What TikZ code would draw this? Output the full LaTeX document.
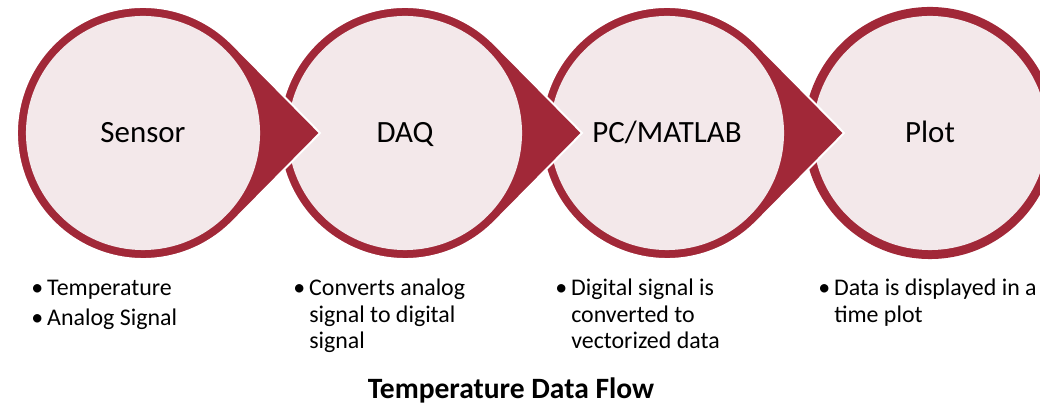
\documentclass[tikz,border=0pt]{standalone}
\usepackage{fontspec}
\setmainfont{Carlito}
\usetikzlibrary{positioning}
\definecolor{ringred}{RGB}{161,40,56}
\definecolor{stagefill}{RGB}{243,232,234}

\begin{document}
\begin{tikzpicture}[x=0.025cm, y=0.025cm]
    % Define block styles
    \tikzstyle{stage} = [circle, fill=stagefill, inner sep=0pt, minimum size=5.85cm, text height=14pt, text depth=0pt, font=\fontsize{22}{26}\selectfont]
    \tikzstyle{ring} = [fill=ringred, draw=white, line width=1.4pt]
    \tikzstyle{note} = [inner sep=0pt, align=left, font=\fontsize{17}{18.5}\selectfont]

    \useasboundingbox (0,0) rectangle (1040,407);
    \clip (0,0) rectangle (1040,407);

    % Centres
    \coordinate (c1) at (143,274);
    \coordinate (c2) at (405,274);
    \coordinate (c3) at (667,274);
    \coordinate (c4) at (930,274);

    % Stages, drawn right to left so each arrow lies on the next circle
    \fill [ringred] (c4) circle [radius=3.15cm];
    \node [stage] (Plot) at (c4) {Plot};

    \path [ring] ([xshift=4.425cm]c3) -- ([shift={(44.6:3.15cm)}]c3) arc [start angle=44.6, end angle=315.4, radius=3.15cm] -- cycle;
    \node [stage] (PC_MATLAB) at (c3) {PC/MATLAB};

    \path [ring] ([xshift=4.425cm]c2) -- ([shift={(44.6:3.15cm)}]c2) arc [start angle=44.6, end angle=315.4, radius=3.15cm] -- cycle;
    \node [stage] (DAQ) at (c2) {DAQ};

    \path [ring] ([xshift=4.425cm]c1) -- ([shift={(44.6:3.15cm)}]c1) arc [start angle=44.6, end angle=315.4, radius=3.15cm] -- cycle;
    \node [stage] (Sensor) at (c1) {Sensor};

    % Notes
    \node [note, below right=0.74cm and -2.4cm of Sensor.south] (Sensor_note) {\llap{\textbullet\,}Temperature\\[2.8pt]\llap{\textbullet\,}Analog Signal};
    \node [note, below right=0.72cm and -2.4cm of DAQ.south] (DAQ_note) {\llap{\textbullet\,}Converts analog\\signal to digital\\signal};
    \node [note, below right=0.72cm and -2.4cm of PC_MATLAB.south] (PC_note) {\llap{\textbullet\,}Digital signal is\\converted to\\vectorized data};
    \node [note, below right=0.72cm and -2.4cm of Plot.south] (Plot_note) {\llap{\textbullet\,}Data is displayed in a\\time plot};

    % Caption
    \node [font=\bfseries\fontsize{21}{24}\selectfont] (Title) at (511,17) {Temperature Data Flow};
\end{tikzpicture}
\end{document}
